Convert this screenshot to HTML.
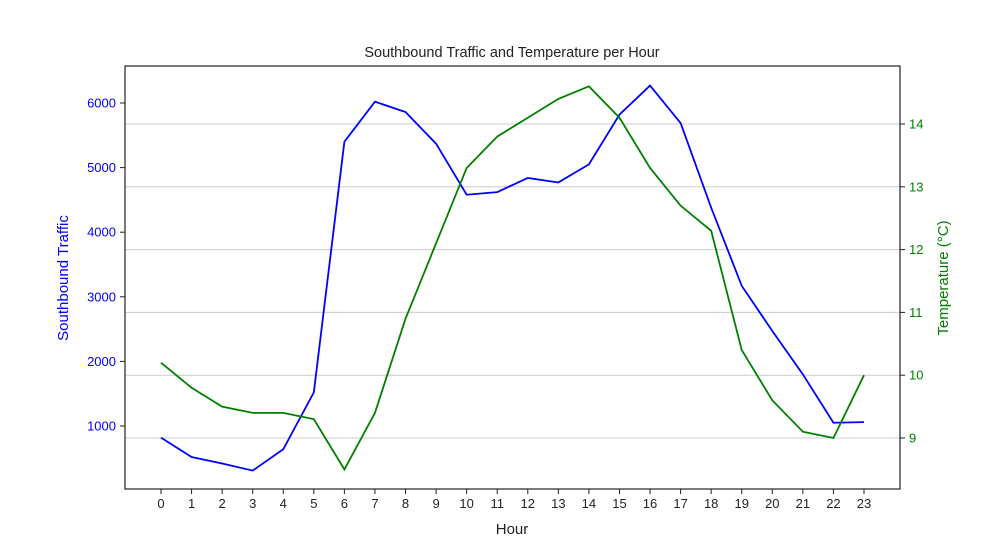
<!DOCTYPE html>
<html><head><meta charset="utf-8"><style>
body{margin:0;background:#fff;font-family:"Liberation Sans","DejaVu Sans",sans-serif}
</style></head><body>
<svg id="chart" width="1000" height="550" xmlns="http://www.w3.org/2000/svg" font-family="Liberation Sans, DejaVu Sans, sans-serif">
<rect width="1000" height="550" fill="#fff"/>
<g id="grid"></g><g id="marks"></g><g id="axes"></g>
<text x="512" y="57" text-anchor="middle" font-size="14.5" fill="#222">Southbound Traffic and Temperature per Hour</text>
<text x="512" y="534" text-anchor="middle" font-size="15" fill="#222">Hour</text>
<text transform="translate(68,278) rotate(-90)" text-anchor="middle" font-size="15" fill="#0000ff">Southbound Traffic</text>
<text transform="translate(948,278) rotate(-90)" text-anchor="middle" font-size="15" fill="#008000">Temperature (°C)</text>
</svg>
<script>
const hours=[0,1,2,3,4,5,6,7,8,9,10,11,12,13,14,15,16,17,18,19,20,21,22,23];
const traffic=[820,520,420,310,640,1520,5400,6020,5860,5370,4580,4620,4840,4770,5050,5820,6270,5690,4380,3170,2470,1800,1050,1060];
const temperature=[10.2,9.8,9.5,9.4,9.4,9.3,8.5,9.4,10.9,12.1,13.3,13.8,14.1,14.4,14.6,14.1,13.3,12.7,12.3,10.4,9.6,9.1,9.0,10.0];
const leftTicks=[1000,2000,3000,4000,5000,6000];
const rightTicks=[9,10,11,12,13,14];
const NS="http://www.w3.org/2000/svg";
const L=125,R=900,T=66,B=489;
const x=h=>161+h*(864-161)/23;
const yL=v=>426-(v-1000)*(426-103)/5000;
const yR=v=>438-(v-9)*(438-124)/5;
function mk(tag,attrs,parent){const e=document.createElementNS(NS,tag);for(const k in attrs)e.setAttribute(k,attrs[k]);parent.appendChild(e);return e;}
const grid=document.getElementById('grid'),marks=document.getElementById('marks'),axes=document.getElementById('axes');
rightTicks.forEach(t=>{const g=mk('line',{x1:L,x2:R,y1:yR(t),y2:yR(t),stroke:'#cccccc','stroke-width':1},grid);
});
const p1=mk('polyline',{points:hours.map((h,i)=>x(h)+','+yL(traffic[i])).join(' '),fill:'none',stroke:'#0000ff','stroke-width':1.8},marks);

const p2=mk('polyline',{points:hours.map((h,i)=>x(h)+','+yR(temperature[i])).join(' '),fill:'none',stroke:'#008000','stroke-width':1.8},marks);

const fr=mk('rect',{x:L,y:T,width:R-L,height:B-T,fill:'none',stroke:'#222','stroke-width':1.2},axes);

hours.forEach(h=>{mk('line',{x1:x(h),x2:x(h),y1:B,y2:B+5,stroke:'#222'},axes);
const t=mk('text',{x:x(h),y:B+19,'text-anchor':'middle','font-size':13,fill:'#222'},axes);t.textContent=h;
});
leftTicks.forEach(v=>{mk('line',{x1:L-5,x2:L,y1:yL(v),y2:yL(v),stroke:'#222'},axes);
const t=mk('text',{x:L-9,y:yL(v)+4.5,'text-anchor':'end','font-size':13,fill:'#0000ff'},axes);t.textContent=v;
});
rightTicks.forEach(v=>{mk('line',{x1:R,x2:R+5,y1:yR(v),y2:yR(v),stroke:'#222'},axes);
const t=mk('text',{x:R+9,y:yR(v)+4.5,'text-anchor':'start','font-size':13,fill:'#008000'},axes);t.textContent=v;
});
</script>
</body></html>
